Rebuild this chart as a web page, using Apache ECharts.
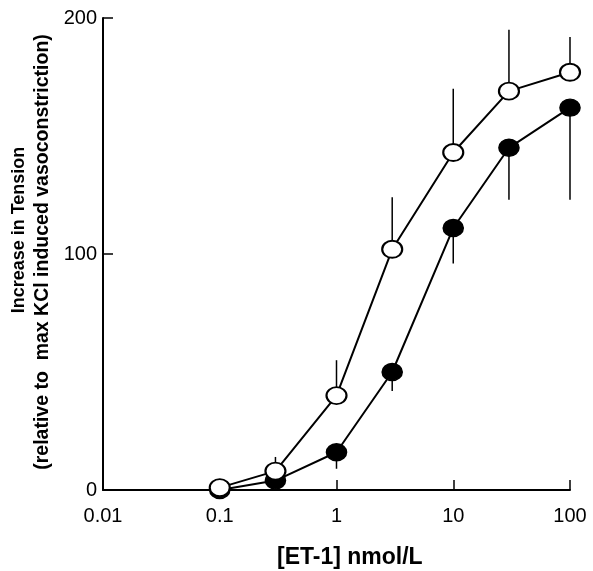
<!DOCTYPE html>
<html>
<head>
<meta charset="utf-8">
<script src="https://cdn.jsdelivr.net/npm/echarts@6/dist/echarts.min.js"></script>
<style>
  html, body { margin: 0; padding: 0; background: #fff; }
  #chart { width: 593px; height: 571px; }
</style>
</head>
<body>
<div id="chart"></div>
<script>
// [ET-1] nmol/L concentrations
var doses = [0.1, 0.3, 1, 3, 10, 30, 100];

// open circles
var openMean = [1, 8, 40, 102, 143, 169, 177];
var openErrTop = [null, 14, 55, 124, 170, 195, 192];

// filled circles
var filledMean = [0, 4, 16, 50, 111, 145, 162];
var filledErrBottom = [null, null, 9, 42, 96, 123, 123];

var xTicks = [0.01, 0.1, 1, 10, 100];
var yTicks = [0, 100, 200];

var font = 'Liberation Sans, Arial, sans-serif';

function pairs(ys) {
    return doses.map(function (d, i) { return [d, ys[i]]; });
}

function errData(ys, ends) {
    var out = [];
    doses.forEach(function (d, i) {
        if (ends[i] != null) out.push([d, ys[i], ends[i]]);
    });
    return out;
}

// one-sided error bar, from the mean to the end value
function errRender(params, api) {
    var a = api.coord([api.value(0), api.value(1)]);
    var b = api.coord([api.value(0), api.value(2)]);
    return {
        type: 'line',
        shape: { x1: a[0], y1: a[1], x2: b[0], y2: b[1] },
        style: { stroke: '#000', lineWidth: 1.5 }
    };
}

var chart = echarts.init(document.getElementById('chart'));

chart.setOption({
    animation: false,
    grid: { left: 103, right: 23, top: 18, bottom: 81 },
    xAxis: {
        type: 'log',
        logBase: 10,
        min: 0.01,
        max: 100,
        axisLine: { lineStyle: { color: '#000', width: 2 } },
        axisTick: { inside: true, length: 10, lineStyle: { color: '#000', width: 1.5 } },
        minorTick: { show: false },
        splitLine: { show: false },
        axisLabel: {
            color: '#000', fontFamily: font, fontSize: 20, margin: 16,
            formatter: function (v) {
                var hit = xTicks.filter(function (t) { return Math.abs(t - v) / t < 1e-6; });
                return hit.length ? String(hit[0]) : '';
            }
        }
    },
    yAxis: {
        type: 'value',
        min: 0,
        max: 200,
        interval: 100,
        axisLine: { show: true, lineStyle: { color: '#000', width: 2 } },
        axisTick: { show: true, inside: true, length: 10, lineStyle: { color: '#000', width: 1.5 } },
        splitLine: { show: false },
        axisLabel: {
            color: '#000', fontFamily: font, fontSize: 20, margin: 6,
            formatter: function (v) { return yTicks.indexOf(v) >= 0 ? String(v) : ''; }
        }
    },
    graphic: [
        {
            type: 'text', left: 277, top: 546,
            style: { text: '[ET-1] nmol/L', font: 'bold 23px ' + font, fill: '#000' }
        },
        {
            type: 'text', x: 19, y: 230, rotation: Math.PI / 2,
            style: {
                text: 'Increase in Tension', font: 'bold 18px ' + font, fill: '#000',
                align: 'center', verticalAlign: 'middle'
            }
        },
        {
            type: 'text', x: 43, y: 252, rotation: Math.PI / 2,
            style: {
                text: '(relative to  max KCl induced vasoconstriction)', font: 'bold 19.5px ' + font, fill: '#000',
                align: 'center', verticalAlign: 'middle'
            }
        }
    ],
    series: [
        {
            type: 'custom', renderItem: errRender, z: 1,
            data: errData(filledMean, filledErrBottom),
            encode: { x: 0, y: [1, 2] }
        },
        {
            type: 'custom', renderItem: errRender, z: 1,
            data: errData(openMean, openErrTop),
            encode: { x: 0, y: [1, 2] }
        },
        {
            type: 'line', z: 2,
            data: pairs(filledMean),
            symbol: 'circle', symbolSize: [20, 17],
            lineStyle: { color: '#000', width: 2 },
            itemStyle: { color: '#000', borderColor: '#000', borderWidth: 1.5 }
        },
        {
            type: 'line', z: 3,
            data: pairs(openMean),
            symbol: 'circle', symbolSize: [20, 17],
            lineStyle: { color: '#000', width: 2 },
            itemStyle: { color: '#fff', borderColor: '#000', borderWidth: 2 }
        }
    ]
});

window.addEventListener('resize', chart.resize);
</script>
</body>
</html>
